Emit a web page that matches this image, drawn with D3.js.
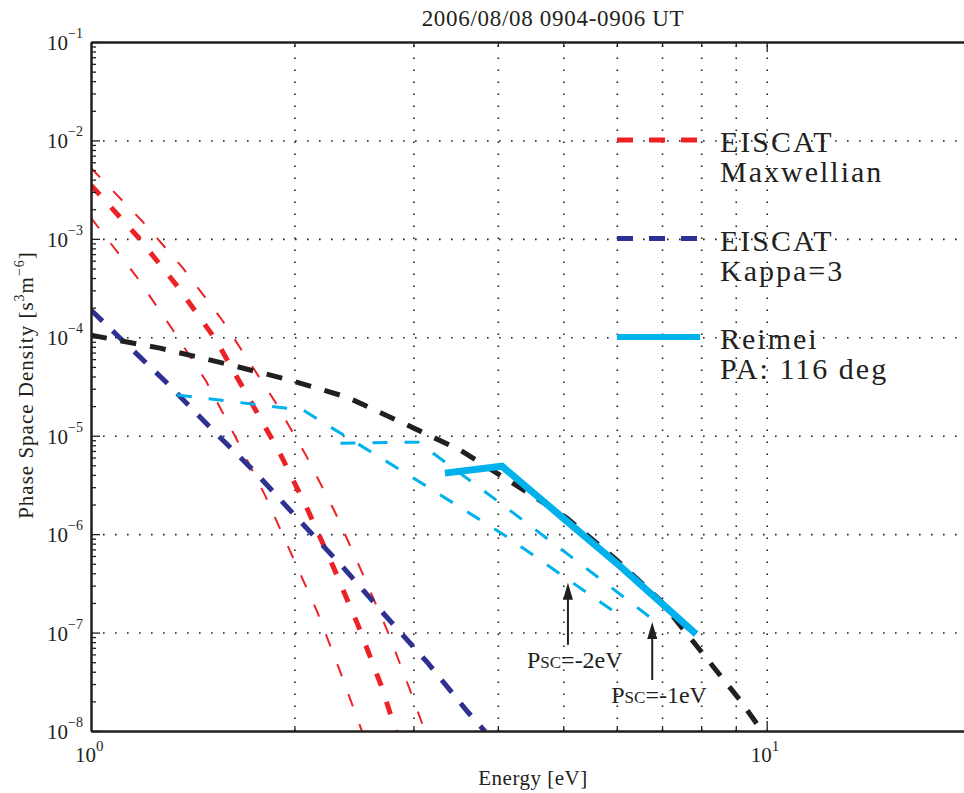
<!DOCTYPE html>
<html>
<head>
<meta charset="utf-8">
<script src="https://cdn.jsdelivr.net/npm/d3@7"></script>
<style>
  body { margin: 0; background: #fff; }
  svg { display: block; }
  svg text { font-family: "Liberation Serif", "Times New Roman", Times, "DejaVu Serif", serif; fill: #231f20; }
</style>
</head>
<body>
<div class="svg"></div>
<script>
// ______________________________ values ______________________________

// EISCAT Maxwellian, upper / middle (thick) / lower
const maxHiE   = [1.0, 1.19, 1.368, 1.563, 1.866, 2.08, 2.297, 2.51, 2.743, 2.966, 3.121];
const maxHiPsd = [5.24e-3, 1.52e-3, 5.05e-4, 1.5e-4, 2.3e-5, 6.35e-6, 1.67e-6, 4.31e-7, 1.06e-7, 2.6e-8, 9.9e-9];
const maxMidE   = [1.0, 1.174, 1.345, 1.531, 1.702, 1.897, 2.087, 2.281, 2.484, 2.687, 2.828];
const maxMidPsd = [3.52e-3, 1.04e-3, 3.24e-4, 9.37e-5, 2.59e-5, 6.97e-6, 1.84e-6, 4.73e-7, 1.19e-7, 2.92e-8, 9.9e-9];
const maxLoE   = [1.0, 1.166, 1.313, 1.48, 1.639, 1.809, 1.977, 2.16, 2.336, 2.518];
const maxLoPsd = [1.63e-3, 4.19e-4, 1.27e-4, 3.59e-5, 9.46e-6, 2.49e-6, 6.41e-7, 1.65e-7, 4.06e-8, 9.9e-9];

// EISCAT Kappa=3
const kappaE   = [1.0, 1.093, 1.182, 1.291, 1.505, 1.755, 2.032, 2.36, 2.724, 3.153, 3.614, 3.829];
const kappaPsd = [1.89e-4, 1.05e-4, 6.29e-5, 3.51e-5, 1.19e-5, 4.17e-6, 1.39e-6, 4.62e-7, 1.5e-7, 4.89e-8, 1.55e-8, 9.9e-9];

// black dashed fit
const fitE   = [1.0, 1.265, 1.568, 1.97, 2.39, 2.92, 3.52, 4.21, 5.06, 6.0, 6.95, 7.97, 9.13, 9.77];
const fitPsd = [1.05e-4, 7.76e-5, 5.47e-5, 3.67e-5, 2.47e-5, 1.31e-5, 7.14e-6, 3.3e-6, 1.46e-6, 5.45e-7, 2.14e-7, 6.62e-8, 2.06e-8, 1.07e-8];

// Reimei, PA 116 deg, and the same spectrum for Psc = -1 eV / -2 eV
const reimeiE   = [3.34, 4.058, 4.995, 6.066, 7.862];
const reimeiPsd = [4.17e-6, 4.9e-6, 1.46e-6, 4.73e-7, 9.63e-8];
const psc1E   = [2.34, 3.05, 4.0, 5.07, 6.72];
const psc1Psd = [8.4e-6, 8.6e-6, 2.16e-6, 6.3e-7, 1.43e-7];
const psc2E   = [1.34, 2.06, 2.987, 4.071, 5.903];
const psc2Psd = [2.59e-5, 1.82e-5, 3.79e-6, 1.0e-6, 1.69e-7];

// arrows
const arrowE    = [5.08, 6.77];
const arrowTip  = [3.2e-7, 1.28e-7];
const arrowBase = [7.5e-8, 3.3e-8];
const arrowText = ["=-2eV", "=-1eV"];

// ticks
const xGrid = [2, 3, 4, 5, 6, 7, 8, 9, 10, 20];
const xLabels = [1, 10];
const yDecades = [1e-8, 1e-7, 1e-6, 1e-5, 1e-4, 1e-3, 1e-2, 1e-1];
const yMinor = [];
yDecades.slice(0, -1).forEach(d => { for (let k = 2; k <= 9; k++) yMinor.push(d * k); });

const legendLabels = [["EISCAT", "Maxwellian"], ["EISCAT", "Kappa=3"], ["Reimei", "PA: 116 deg"]];

// ________________________________________ drawing ________________________________________

const zip = (a, b) => a.map((v, i) => [v, b[i]]);

const width = 964;
const height = 793;
const margin = {top: 42, left: 91, bottom: 62};
const decadeX = 675.7;

const svg = d3.select(".svg")
    .append("svg")
    .attr("width", width)
    .attr("height", height);

const x = d3.scaleLog()
    .domain([1, 20])
    .range([margin.left, margin.left + decadeX * Math.log10(20)]);

const y = d3.scaleLog()
    .domain([1e-8, 1e-1])
    .range([height - margin.bottom, margin.top]);

const plotH = y(1e-8) - y(1e-1);
const ink = "#231f20";

// grid
const gx = svg.append("g")
    .attr("transform", `translate(0,${y(1e-8)})`)
    .call(d3.axisBottom(x).tickValues(xGrid).tickSize(-plotH).tickFormat(""));
const gy = svg.append("g")
    .attr("transform", `translate(${x(1)},0)`)
    .call(d3.axisLeft(y).tickValues(yDecades.slice(1, -1)).tickSize(-(x(20) - x(1))).tickFormat(""));
[gx, gy].forEach(g => {
    g.select(".domain").remove();
    g.selectAll("line")
        .attr("stroke", ink)
        .attr("stroke-width", 1.6)
        .attr("stroke-dasharray", "1.6,10.4");
});

// data lines
svg.append("clipPath").attr("id", "plot")
    .append("rect")
    .attr("x", x(1)).attr("y", y(1e-1))
    .attr("width", width - x(1)).attr("height", plotH);

const line = d3.line().x(d => x(d[0])).y(d => y(d[1]));

const series = [
    {pts: zip(maxHiE, maxHiPsd),   color: "#ec2227", w: 2, dash: "13,19"},
    {pts: zip(maxLoE, maxLoPsd),   color: "#ec2227", w: 2, dash: "13,19"},
    {pts: zip(maxMidE, maxMidPsd), color: "#ec2227", w: 5, dash: "13,17"},
    {pts: zip(kappaE, kappaPsd),   color: "#2e3192", w: 5, dash: "16,14"},
    {pts: zip(fitE, fitPsd),       color: ink,       w: 5, dash: "16,14"},
    {pts: zip(psc2E, psc2Psd),     color: "#00b1eb", w: 3, dash: "15,17"},
    {pts: zip(psc1E, psc1Psd),     color: "#00b1eb", w: 3, dash: "15,17"},
    {pts: zip(reimeiE, reimeiPsd), color: "#00b1eb", w: 7, dash: null}
];

svg.append("g")
    .attr("clip-path", "url(#plot)")
    .selectAll("path")
    .data(series)
    .join("path")
        .attr("d", d => line(d.pts))
        .attr("fill", "none")
        .attr("stroke", d => d.color)
        .attr("stroke-width", d => d.w)
        .attr("stroke-dasharray", d => d.dash)
        .attr("stroke-linejoin", "miter");

// axes
function frame(g) {
    g.select(".domain").attr("stroke", ink).attr("stroke-width", 2);
    g.selectAll(".tick line").attr("stroke", ink).attr("stroke-width", 1.3);
}

svg.append("g")
    .attr("transform", `translate(${x(1)},0)`)
    .call(d3.axisLeft(y).tickValues(yMinor).tickSize(-5).tickSizeOuter(0).tickFormat(""))
    .call(frame);
svg.append("g")
    .attr("transform", `translate(${x(1)},0)`)
    .call(d3.axisLeft(y).tickValues(yDecades).tickSize(-9).tickSizeOuter(0).tickFormat(""))
    .call(frame);

[[d3.axisBottom, y(1e-8)], [d3.axisTop, y(1e-1)]].forEach(([ax, pos]) => {
    svg.append("g")
        .attr("transform", `translate(0,${pos})`)
        .call(ax(x).tickValues(xGrid.filter(v => v !== 10)).tickSize(-5).tickSizeOuter(0).tickFormat(""))
        .call(frame);
    svg.append("g")
        .attr("transform", `translate(0,${pos})`)
        .call(ax(x).tickValues([10]).tickSize(-10).tickSizeOuter(0).tickFormat(""))
        .call(frame);
});

// tick labels
const yl = svg.append("g").selectAll("g").data(yDecades).join("g");
yl.append("text")
    .attr("x", 68).attr("y", d => y(d) + 8)
    .attr("text-anchor", "end").attr("font-size", 21)
    .text("10");
yl.append("text")
    .attr("x", 68).attr("y", d => y(d) - 4)
    .attr("font-size", 14)
    .text(d => "\u2212" + Math.round(-Math.log10(d)));

const xl = svg.append("g").selectAll("g").data(xLabels).join("g");
xl.append("text")
    .attr("x", d => x(d) + 5).attr("y", 762)
    .attr("text-anchor", "end").attr("font-size", 21)
    .text("10");
xl.append("text")
    .attr("x", d => x(d) + 5).attr("y", 751)
    .attr("font-size", 15)
    .text(d => Math.round(Math.log10(d)));

// axis titles
svg.append("text")
    .attr("x", 533).attr("y", 785)
    .attr("text-anchor", "middle").attr("font-size", 21)
    .attr("letter-spacing", 0.5)
    .text("Energy [eV]");

const ylab = svg.append("text")
    .attr("transform", "translate(33,385) rotate(-90)")
    .attr("text-anchor", "middle").attr("font-size", 21)
    .attr("letter-spacing", 1);
ylab.append("tspan").text("Phase Space Density [s");
ylab.append("tspan").attr("dy", -9).attr("font-size", 14).text("3");
ylab.append("tspan").attr("dy", 9).text("m");
ylab.append("tspan").attr("dy", -9).attr("font-size", 14).text("\u22126");
ylab.append("tspan").attr("dy", 9).text("]");

svg.append("text")
    .attr("x", 553).attr("y", 26)
    .attr("text-anchor", "middle").attr("font-size", 23)
    .attr("letter-spacing", 0.7)
    .text("2006/08/08 0904-0906 UT");

// legend
const legend = svg.append("g").selectAll("g")
    .data(series.filter((d, i) => i === 2 || i === 3 || i === 7))
    .join("g")
        .attr("transform", (d, i) => `translate(617,${140 + i * 98.5})`);
legend.append("line")
    .attr("x1", 0).attr("x2", 83)
    .attr("stroke", d => d.color)
    .attr("stroke-width", d => d.w === 7 ? 6 : 5)
    .attr("stroke-dasharray", d => d.dash ? "16,16" : null);
legend.each(function(d, i) {
    const g = d3.select(this);
    legendLabels[i].forEach((t, j) => {
        g.append("text")
            .attr("x", 103).attr("y", 12 + j * 30)
            .attr("font-size", 30)
            .attr("letter-spacing", 2)
            .text(t);
    });
});

// arrows
const arrows = svg.append("g").selectAll("g")
    .data(arrowE.map((e, i) => ({e, tip: arrowTip[i], base: arrowBase[i], label: arrowText[i]})))
    .join("g");
arrows.append("line")
    .attr("x1", d => x(d.e)).attr("x2", d => x(d.e))
    .attr("y1", d => y(d.base)).attr("y2", d => y(d.tip) + 10)
    .attr("stroke", ink).attr("stroke-width", 2);
arrows.append("path")
    .attr("d", d => `M${x(d.e)},${y(d.tip)} L${x(d.e) - 5},${y(d.tip) + 17} L${x(d.e) + 5},${y(d.tip) + 17} Z`)
    .attr("fill", ink);
const at = arrows.append("text")
    .attr("x", d => x(d.e) - 41)
    .attr("y", d => y(d.base) + 23)
    .attr("font-size", 24);
at.append("tspan").text("P");
at.append("tspan").attr("font-size", 17).text("SC");
at.append("tspan").text(d => d.label);
</script>
</body>
</html>
